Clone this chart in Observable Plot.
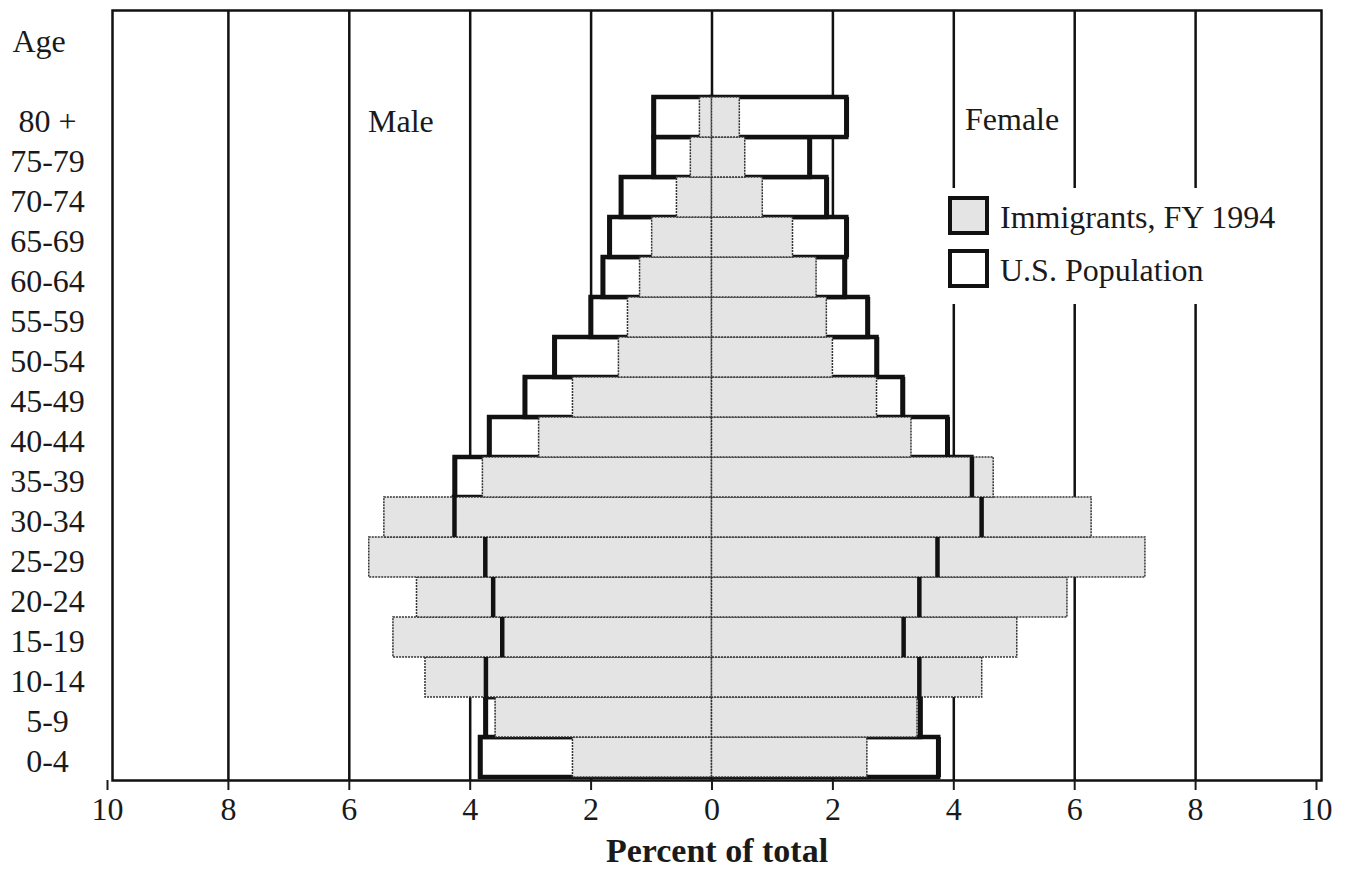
<!DOCTYPE html>
<html>
<head>
<meta charset="utf-8">
<script src="https://cdn.jsdelivr.net/npm/d3@7"></script>
<script src="https://cdn.jsdelivr.net/npm/@observablehq/plot@0.6"></script>
<style>
  body { margin: 0; background: white; }
  #wrap { position: relative; width: 1354px; height: 874px; font-family: "Liberation Serif", serif; color: #1a1a1a; }
  .lbl { position: absolute; font-size: 32px; line-height: 32px; white-space: nowrap; }
  #legend { position: absolute; left: 940px; top: 188px; width: 374px; height: 116px; background: white; }
  .sw { position: absolute; left: 8px; width: 33px; height: 31px; border: 4px solid #111; }
</style>
</head>
<body>
<div id="wrap"></div>
<script>
// Age groups, bottom to top
const ages = ["0-4","5-9","10-14","15-19","20-24","25-29","30-34","35-39","40-44","45-49","50-54","55-59","60-64","65-69","70-74","75-79","80 +"];
// Percent of total
const maleImmigrants   = [2.30, 3.58, 4.74, 5.27, 4.88, 5.67, 5.42, 3.79, 2.86, 2.30, 1.54, 1.39, 1.19, 0.99, 0.58, 0.35, 0.20];
const femaleImmigrants = [2.57, 3.40, 4.47, 5.05, 5.88, 7.17, 6.28, 4.66, 3.30, 2.73, 2.00, 1.90, 1.73, 1.34, 0.84, 0.55, 0.46];
const maleUS           = [3.83, 3.74, 3.74, 3.47, 3.62, 3.75, 4.26, 4.25, 3.68, 3.09, 2.60, 2.00, 1.80, 1.69, 1.50, 0.96, 0.96];
const femaleUS         = [3.75, 3.45, 3.43, 3.17, 3.43, 3.73, 4.46, 4.30, 3.90, 3.16, 2.73, 2.58, 2.20, 2.23, 1.90, 1.62, 2.23];
const xTicks = [-10, -8, -6, -4, -2, 0, 2, 4, 6, 8, 10];
const gridTicks = [-8, -6, -4, -2, 0, 2, 4, 6, 8];
const yTitle = "Age";
const xTitle = "Percent of total";
const seriesNames = ["Immigrants, FY 1994", "U.S. Population"];
const sideNames = ["Male", "Female"];

const usData = ages.flatMap((a, i) => [{age: a, v: -maleUS[i]}, {age: a, v: femaleUS[i]}]);
const immData = ages.flatMap((a, i) => [{age: a, v: -maleImmigrants[i]}, {age: a, v: femaleImmigrants[i]}]);
const yDomain = [yTitle, " ", ...ages.slice().reverse()];

const chart = Plot.plot({
  width: 1354,
  height: 874,
  marginLeft: 112,
  marginRight: 33,
  marginTop: 10,
  marginBottom: 94,
  style: {fontFamily: "Liberation Serif, serif", fontSize: "32px", color: "#1a1a1a", background: "white"},
  x: {domain: [-10, 10], insetLeft: -5, insetRight: 5},
  y: {domain: yDomain, padding: 0, insetTop: 6, insetBottom: 2, axis: null},
  marks: [
    Plot.ruleX(gridTicks, {stroke: "#111", strokeWidth: 2.5}),
    Plot.barX(usData, {y: "age", x1: 0, x2: "v", fill: "white", stroke: "#111", strokeWidth: 4.5}),
    Plot.barX(immData, {y: "age", x1: 0, x2: "v", fill: "#e4e4e4", stroke: "#333", strokeWidth: 1.5, strokeDasharray: "2,1"}),
    Plot.tickX(usData, {y: "age", x: "v", stroke: "#111", strokeWidth: 4.5}),
    Plot.frame({stroke: "#111", strokeWidth: 2.5}),
    Plot.axisX({ticks: xTicks, tickFormat: d => Math.abs(d), tickSize: 10, tickPadding: 7, label: null, strokeWidth: 2}),
    Plot.text(ages, {y: d => d, frameAnchor: "left", dx: -65, dy: 4, textAnchor: "middle", fill: "#1a1a1a"}),
    Plot.text([yTitle], {y: d => d, frameAnchor: "left", dx: -100, dy: 4, textAnchor: "start", fill: "#1a1a1a"}),
    Plot.text([xTitle], {frameAnchor: "bottom", lineAnchor: "middle", dy: 71, fontSize: 34, fontWeight: "bold", fill: "#1a1a1a"})
  ]
});

const wrap = document.getElementById("wrap");
wrap.appendChild(chart);

function addLabel(text, left, top) {
  const d = document.createElement("div");
  d.className = "lbl";
  d.style.left = left + "px";
  d.style.top = top + "px";
  d.textContent = text;
  wrap.appendChild(d);
  return d;
}
addLabel(sideNames[0], 368, 105);
addLabel(sideNames[1], 965, 103);

const legend = document.createElement("div");
legend.id = "legend";
wrap.appendChild(legend);
const sw1 = document.createElement("div"); sw1.className = "sw"; sw1.style.top = "8px"; sw1.style.background = "#e4e4e4";
const sw2 = document.createElement("div"); sw2.className = "sw"; sw2.style.top = "61px"; sw2.style.background = "white";
legend.appendChild(sw1); legend.appendChild(sw2);
addLabel(seriesNames[0], 1000, 201);
addLabel(seriesNames[1], 1000, 254);
</script>
</body>
</html>
